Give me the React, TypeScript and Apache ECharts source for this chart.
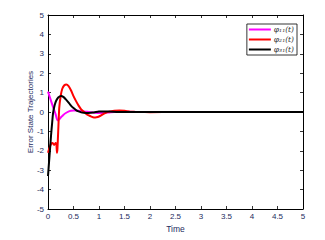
import React, { useEffect, useRef } from "react";
import * as echarts from "echarts";

const magentaT = [0, 0.05, 0.1, 0.15, 0.19, 0.22, 0.26, 0.3, 0.35, 0.4, 0.45, 0.5, 0.55, 0.6, 0.7, 0.8, 0.9, 1.0, 1.1, 1.2, 1.3, 1.5, 2, 3, 4, 5];
const magentaV = [1.05, 0.65, 0.25, -0.12, -0.43, -0.38, -0.26, -0.15, -0.05, 0.02, 0.06, 0.08, 0.08, 0.07, 0.03, 0, -0.03, -0.05, -0.04, -0.02, 0, 0.01, 0, 0, 0, 0];

const redT = [0, 0.03, 0.06, 0.09, 0.12, 0.15, 0.165, 0.175, 0.185, 0.2, 0.22, 0.25, 0.28, 0.32, 0.36, 0.4, 0.45, 0.5, 0.55, 0.6, 0.65, 0.7, 0.75, 0.8, 0.85, 0.9, 0.95, 1.0, 1.05, 1.1, 1.2, 1.3, 1.4, 1.5, 1.6, 1.7, 1.8, 2.0, 2.5, 3, 4, 5];
const redV = [-2.1, -1.85, -1.65, -1.6, -1.7, -1.6, -1.65, -2.1, -1.9, -1.0, 0.2, 0.85, 1.2, 1.38, 1.42, 1.35, 1.12, 0.82, 0.56, 0.33, 0.14, 0.02, -0.1, -0.18, -0.24, -0.28, -0.27, -0.23, -0.16, -0.08, 0.02, 0.07, 0.08, 0.06, 0.03, 0.01, 0, -0.01, 0, 0, 0, 0];

const blackT = [0, 0.02, 0.04, 0.06, 0.08, 0.1, 0.13, 0.16, 0.2, 0.26, 0.3, 0.35, 0.4, 0.45, 0.5, 0.55, 0.6, 0.65, 0.7, 0.8, 0.9, 1.0, 1.1, 1.2, 1.4, 1.6, 2, 3, 4, 5];
const blackV = [-3.3, -2.6, -1.9, -1.2, -0.6, -0.05, 0.35, 0.58, 0.75, 0.83, 0.78, 0.65, 0.5, 0.33, 0.2, 0.1, 0.03, -0.02, -0.04, -0.05, -0.02, 0.02, 0.03, 0.02, 0, 0, 0, 0, 0, 0];

const seriesNames = ["φ₁₁(t)", "φ₂₁(t)", "φ₃₁(t)"];
const seriesColors = ["#ff00ff", "#ff0000", "#000000"];

const textColor = "#1d2b5e";

function pairs(t: number[], v: number[]) {
  return t.map((x, i) => [x, v[i]]);
}

export default function App() {
  const ref = useRef<HTMLDivElement>(null);
  useEffect(() => {
    if (!ref.current) return;
    const chart = echarts.init(ref.current, undefined, { renderer: "svg" });
    const tick = { show: true, inside: true, length: 3, lineStyle: { color: "#000", width: 0.8 } };
    const line = { show: true, onZero: false, lineStyle: { color: "#000", width: 1 } };
    const datasets = [pairs(magentaT, magentaV), pairs(redT, redV), pairs(blackT, blackV)];
    chart.setOption({
      animation: false,
      backgroundColor: "#fff",
      grid: { left: 48, right: 22, top: 15, bottom: 31, containLabel: false },
      legend: {
        orient: "vertical",
        right: 28,
        top: 24,
        padding: [1, 3, 1, 2],
        itemGap: 1,
        itemWidth: 22,
        itemHeight: 2,
        icon: "rect",
        backgroundColor: "#fff",
        borderColor: "#000",
        borderWidth: 0.8,
        borderRadius: 0,
        data: seriesNames,
        textStyle: { fontFamily: "DejaVu Serif", fontStyle: "italic", fontSize: 7.5, lineHeight: 9, color: "#333", padding: [0, 0, 0, -2] },
      },
      xAxis: [
        {
          type: "value", min: 0, max: 5, interval: 0.5, position: "bottom",
          axisLine: line, axisTick: tick, splitLine: { show: false },
          axisLabel: { fontSize: 8, margin: 3, color: textColor, fontFamily: "Liberation Sans" },
          name: "Time", nameLocation: "middle", nameGap: 15, nameMoveOverlap: false,
          nameTextStyle: { fontSize: 8.5, color: textColor, fontFamily: "Liberation Sans" },
        },
        {
          type: "value", min: 0, max: 5, interval: 0.5, position: "top",
          axisLine: line, axisTick: tick, splitLine: { show: false }, axisLabel: { show: false },
        },
      ],
      yAxis: [
        {
          type: "value", min: -5, max: 5, interval: 1, position: "left",
          axisLine: line, axisTick: tick, splitLine: { show: false },
          axisLabel: { fontSize: 8, margin: 4, color: textColor, fontFamily: "Liberation Sans" },
          name: "Error State Trajectories", nameLocation: "middle", nameGap: 14, nameMoveOverlap: false,
          nameTextStyle: { fontSize: 8, color: textColor, fontFamily: "Liberation Sans" },
        },
        {
          type: "value", min: -5, max: 5, interval: 1, position: "right",
          axisLine: line, axisTick: tick, splitLine: { show: false }, axisLabel: { show: false },
        },
      ],
      series: datasets.map((d, i) => ({
        name: seriesNames[i],
        type: "line",
        xAxisIndex: 0,
        yAxisIndex: 0,
        data: d,
        showSymbol: false,
        symbol: "none",
        smooth: i === 1 ? 0.15 : 0.3,
        color: seriesColors[i],
        lineStyle: { color: seriesColors[i], width: 2 },
      })),
    });
    return () => chart.dispose();
  }, []);
  return <div ref={ref} style={{ position: "fixed", left: 0, top: 0, width: 325, height: 240, background: "#fff" }} />;
}
